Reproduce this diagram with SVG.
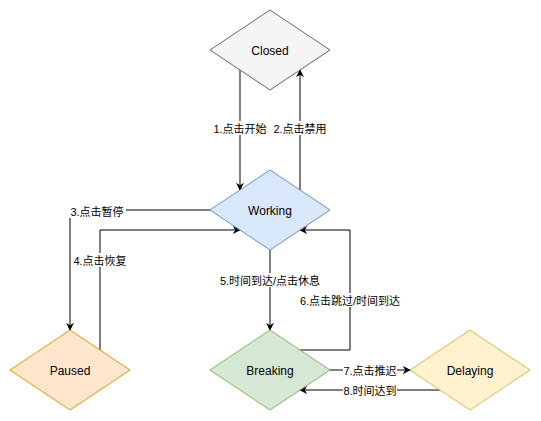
<svg xmlns="http://www.w3.org/2000/svg" width="541" height="421" viewBox="0 0 541 421">
<style>
.n{stroke-width:1}
.t{font-family:"Liberation Sans","Noto Sans CJK SC",sans-serif;font-size:12px;fill:#000;text-anchor:middle;dominant-baseline:central}
.l{font-family:"Liberation Sans","Noto Sans CJK SC",sans-serif;font-size:11px;fill:#000;text-anchor:middle;dominant-baseline:central}
.e{fill:none;stroke:#000;stroke-width:1}
.bg{fill:#fff}
</style>
<defs>
<marker id="a" viewBox="0 0 10 10" refX="9" refY="5" markerWidth="8" markerHeight="8" markerUnits="userSpaceOnUse" orient="auto">
<path d="M0,0 L10,5 L0,10 L3,5 Z" fill="#000"/>
</marker>
</defs>
<rect width="541" height="421" fill="#fff"/>
<g id="connectors">
<path class="e" d="M240,70 V190" marker-end="url(#a)"/>
<path class="e" d="M300,190 V70" marker-end="url(#a)"/>
<path class="e" d="M210,210 H70 V330" marker-end="url(#a)"/>
<path class="e" d="M100,350 V230 H240" marker-end="url(#a)"/>
<path class="e" d="M270,250 V330" marker-end="url(#a)"/>
<path class="e" d="M300,350 H350 V230 H300" marker-end="url(#a)"/>
<path class="e" d="M330,370 H410" marker-end="url(#a)"/>
<path class="e" d="M440,390 H300" marker-end="url(#a)"/>
<rect class="bg" x="213" y="121" width="54" height="14"/>
<text class="l" x="240" y="129">1.点击开始</text>
<rect class="bg" x="273" y="121" width="54" height="14"/>
<text class="l" x="300" y="129">2.点击禁用</text>
<rect class="bg" x="68" y="204" width="58" height="14"/>
<text class="l" x="97" y="212">3.点击暂停</text>
<rect class="bg" x="73" y="253" width="54" height="14"/>
<text class="l" x="100" y="261">4.点击恢复</text>
<rect class="bg" x="224" y="273" width="92" height="14"/>
<text class="l" x="270" y="281">5.时间到达/点击休息</text>
<rect class="bg" x="302" y="293" width="96" height="14"/>
<text class="l" x="350" y="301">6.点击跳过/时间到达</text>
<rect class="bg" x="343" y="363" width="54" height="14"/>
<text class="l" x="370" y="371">7.点击推迟</text>
<rect class="bg" x="343" y="383" width="54" height="14"/>
<text class="l" x="370" y="391">8.时间达到</text>
</g>
<g id="closed">
<path class="n" d="M270,10 L330,50 L270,90 L210,50 Z" fill="#f5f5f5" stroke="#666666"/>
<text class="t" x="270" y="51">Closed</text>
</g>
<g id="working">
<path class="n" d="M270,170 L330,210 L270,250 L210,210 Z" fill="#dae8fc" stroke="#6c8ebf"/>
<text class="t" x="270" y="211">Working</text>
</g>
<g id="paused">
<path class="n" d="M70,330 L130,370 L70,410 L10,370 Z" fill="#ffe6cc" stroke="#d79b00"/>
<text class="t" x="70" y="371">Paused</text>
</g>
<g id="breaking">
<path class="n" d="M270,330 L330,370 L270,410 L210,370 Z" fill="#d5e8d4" stroke="#82b366"/>
<text class="t" x="270" y="371">Breaking</text>
</g>
<g id="delaying">
<path class="n" d="M470,330 L530,370 L470,410 L410,370 Z" fill="#fff2cc" stroke="#d6b656"/>
<text class="t" x="470" y="371">Delaying</text>
</g>
</svg>
